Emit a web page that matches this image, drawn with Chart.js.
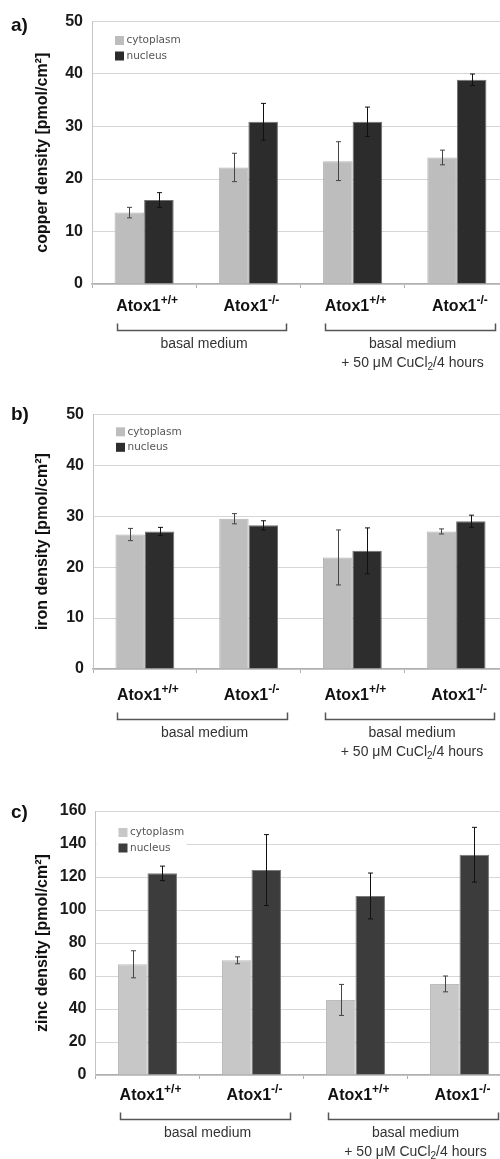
<!DOCTYPE html>
<html>
<head>
<meta charset="utf-8">
<script src="https://cdn.jsdelivr.net/npm/chart.js@4"></script>
<style>
  html, body { margin: 0; padding: 0; background: #fff; overflow: hidden; width: 500px; height: 1159px; }
  canvas { position: absolute; left: 0; }
</style>
</head>
<body>
<canvas id="cu" width="514" height="385" style="top:0px"></canvas>
<canvas id="fe" width="514" height="390" style="top:385px"></canvas>
<canvas id="zn" width="514" height="384" style="top:775px"></canvas>
<script>
// categories and labels
var categories = ['Atox1+/+', 'Atox1-/-', 'Atox1+/+', 'Atox1-/-'];
var genotypeBase = 'Atox1';
var genotypeSup = ['+/+', '-/-', '+/+', '-/-'];
var seriesNames = ['cytoplasm', 'nucleus'];
var conditionGroups = [
  { from: 0, to: 1, lines: ['basal medium'] },
  { from: 2, to: 3, lines: ['basal medium', '+ 50 \u03bcM CuCl|2|/4 hours'] }
];

// copper (pmol/cm2)
var copperCyto = [13.6, 22.2, 23.4, 24.1];
var copperCytoErr = [1.0, 2.7, 3.7, 1.4];
var copperNuc = [16.0, 30.9, 30.9, 38.9];
var copperNucErr = [1.4, 3.5, 2.8, 1.1];

// iron
var ironCyto = [26.4, 29.5, 21.9, 27.0];
var ironCytoErr = [1.2, 1.0, 5.4, 0.5];
var ironNuc = [27.0, 28.2, 23.2, 29.0];
var ironNucErr = [0.8, 0.9, 4.5, 1.2];

// zinc
var zincCyto = [67.1, 69.5, 45.5, 55.2];
var zincCytoErr = [8.2, 2.1, 9.4, 4.8];
var zincNuc = [122.2, 124.2, 108.5, 133.5];
var zincNucErr = [4.4, 21.5, 13.9, 16.6];

var FONT = "'Liberation Sans', Arial, sans-serif";
var X_AXIS_H = 8;

// draws a line of text made of pieces (for super/subscripts), centred on cx
function drawRich(ctx, parts, cx, y) {
  var w = 0;
  parts.forEach(function (p) { ctx.font = p.font; p.w = ctx.measureText(p.text).width; w += p.w; });
  var x = cx - w / 2;
  parts.forEach(function (p) {
    ctx.font = p.font;
    ctx.fillText(p.text, x, y + (p.dy || 0));
    x += p.w;
  });
}

var extras = {
  id: 'extras',
  afterDatasetsDraw: function (chart) {
    var ctx = chart.ctx, ys = chart.scales.y;
    ctx.save();
    ctx.lineWidth = 1;
    chart.data.datasets.forEach(function (ds, di) {
      var meta = chart.getDatasetMeta(di);
      ctx.strokeStyle = ds.errorColor;
      meta.data.forEach(function (bar, i) {
        var v = ds.data[i], e = ds.errors[i];
        var x = Math.round(bar.x) + 0.5;
        var yt = ys.getPixelForValue(v + e), yb = ys.getPixelForValue(v - e);
        ctx.beginPath();
        ctx.moveTo(x, yt); ctx.lineTo(x, yb);
        ctx.moveTo(x - 2.5, yt); ctx.lineTo(x + 2.5, yt);
        ctx.moveTo(x - 2.5, yb); ctx.lineTo(x + 2.5, yb);
        ctx.stroke();
      });
    });
    ctx.restore();
  },
  afterDraw: function (chart, args, o) {
    var ctx = chart.ctx, area = chart.chartArea, xs = chart.scales.x;
    ctx.save();

    // legend inside plot
    var lx = area.left + 23, ly = area.top + o.legendTop;
    ctx.fillStyle = '#fff';
    ctx.fillRect(area.left + 1, ly - 6, 90, 36);
    ctx.font = "10.5px 'DejaVu Sans', sans-serif";
    ctx.textBaseline = 'middle';
    ctx.textAlign = 'left';
    chart.data.datasets.forEach(function (ds, i) {
      var yy = ly + i * 15.5;
      ctx.fillStyle = ds.backgroundColor;
      ctx.fillRect(lx, yy, 9, 9);
      ctx.fillStyle = '#555';
      ctx.fillText(ds.label, lx + 11.5, yy + 4.5);
    });

    // panel letter
    ctx.textBaseline = 'alphabetic';
    ctx.fillStyle = '#111';
    ctx.font = 'bold 19px ' + FONT;
    ctx.fillText(o.letter, 11, area.top + o.letterDy);

    // genotype labels with superscripts
    var base = area.bottom + o.labelDy;
    ctx.fillStyle = '#111';
    genotypeSup.forEach(function (sup, i) {
      drawRich(ctx, [
        { text: genotypeBase, font: 'bold 16px ' + FONT },
        { text: sup, font: 'bold 12px ' + FONT, dy: -7 }
      ], xs.getPixelForValue(i) + 3, base);
    });

    // brackets and condition text
    conditionGroups.forEach(function (g) {
      var x0 = Math.round(xs.getPixelForValue(g.from) - 27.5) + 0.5;
      var x1 = Math.round(xs.getPixelForValue(g.to) + 38) + 0.5;
      var by = Math.round(base + 19) + 0.5;
      ctx.strokeStyle = '#555';
      ctx.lineWidth = 1.5;
      ctx.beginPath();
      ctx.moveTo(x0, by - 7); ctx.lineTo(x0, by); ctx.lineTo(x1, by); ctx.lineTo(x1, by - 7);
      ctx.stroke();
      ctx.fillStyle = '#333';
      ctx.textBaseline = 'middle';
      var cx = (x0 + x1) / 2 + 2;
      g.lines.forEach(function (line, li) {
        var bits = line.split('|');
        var parts = [{ text: bits[0], font: '14px ' + FONT }];
        if (bits.length > 1) {
          parts.push({ text: bits[1], font: '10px ' + FONT, dy: 4 });
          parts.push({ text: bits[2], font: '14px ' + FONT });
        }
        drawRich(ctx, parts, cx, base + 33 + li * 19);
      });
    });
    ctx.restore();
  }
};

function makeChart(id, p) {
  var canvas = document.getElementById(id);
  return new Chart(canvas, {
    type: 'bar',
    data: {
      labels: categories,
      datasets: [
        { label: seriesNames[0], data: p.cyto, errors: p.cytoErr, backgroundColor: p.light,
          borderColor: p.lightEdge, borderWidth: 1, errorColor: '#444' },
        { label: seriesNames[1], data: p.nuc, errors: p.nucErr, backgroundColor: p.dark,
          borderColor: p.darkEdge, borderWidth: 1, errorColor: '#111' }
      ]
    },
    options: {
      responsive: false,
      animation: false,
      layout: {
        padding: {
          left: 30,
          right: canvas.width - p.right,
          top: p.top - p.canvasTop,
          bottom: p.canvasTop + canvas.height - p.bottom - X_AXIS_H
        }
      },
      datasets: { bar: { categoryPercentage: 0.567, barPercentage: 1.0 } },
      scales: {
        x: {
          offset: true,
          grid: { display: true, offset: true, drawOnChartArea: false, drawTicks: true, tickLength: 4, color: '#b0b0b0' },
          border: { display: true, color: '#b0b0b0', width: 1.5 },
          ticks: { display: false },
          afterFit: function (s) { s.height = X_AXIS_H; }
        },
        y: {
          min: 0, max: p.max,
          ticks: { stepSize: p.step, padding: 9, color: '#1a1a1a', font: { family: FONT, size: 16, weight: 'bold' } },
          grid: { color: '#d6d6d6', lineWidth: 1, drawTicks: false },
          border: { display: true, color: '#c4c4c4', width: 1 },
          title: { display: true, text: p.title, color: '#111', padding: { top: 3.4, bottom: 0 },
                   font: { family: FONT, size: 16, weight: 'bold' } },
          afterFit: function (s) { s.width = p.left - 30; }
        }
      },
      plugins: {
        legend: { display: false },
        tooltip: { enabled: false },
        extras: p.extras
      }
    },
    plugins: [extras]
  });
}

makeChart('cu', {
  cyto: copperCyto, cytoErr: copperCytoErr, nuc: copperNuc, nucErr: copperNucErr,
  light: '#bdbdbd', lightEdge: '#b3b3b3', dark: '#2c2c2c', darkEdge: '#707070',
  max: 50, step: 10, title: 'copper density [pmol/cm\u00b2]',
  canvasTop: 0, top: 21.5, bottom: 284, left: 92, right: 509,
  extras: { letter: 'a)', letterDy: 9, legendTop: 14.5, labelDy: 27 }
});

makeChart('fe', {
  cyto: ironCyto, cytoErr: ironCytoErr, nuc: ironNuc, nucErr: ironNucErr,
  light: '#bebebe', lightEdge: '#b3b3b3', dark: '#2d2d2d', darkEdge: '#707070',
  max: 50, step: 10, title: 'iron density [pmol/cm\u00b2]',
  canvasTop: 385, top: 414.3, bottom: 669, left: 93, right: 508,
  extras: { letter: 'b)', letterDy: 6, legendTop: 13, labelDy: 31 }
});

makeChart('zn', {
  cyto: zincCyto, cytoErr: zincCytoErr, nuc: zincNuc, nucErr: zincNucErr,
  light: '#c7c7c7', lightEdge: '#bcbcbc', dark: '#3c3c3c', darkEdge: '#7a7a7a',
  max: 160, step: 20, title: 'zinc density [pmol/cm\u00b2]',
  canvasTop: 775, top: 811, bottom: 1075, left: 95.5, right: 511.5,
  extras: { letter: 'c)', letterDy: 6.5, legendTop: 17, labelDy: 25 }
});
</script>
</body>
</html>
